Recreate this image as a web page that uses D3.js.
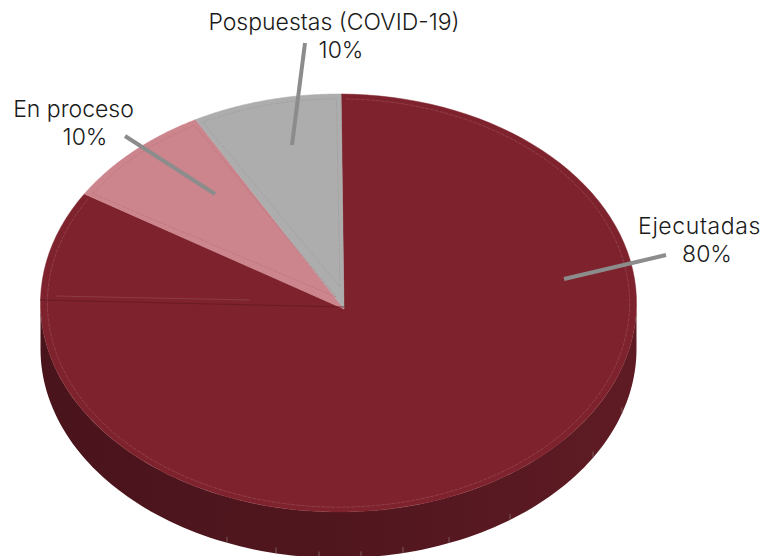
<!DOCTYPE html>
<html>
<head>
<meta charset="utf-8">
<script src="https://cdn.jsdelivr.net/npm/d3@7"></script>
<style>
  html, body { margin: 0; padding: 0; background: #fff; }
  svg { display: block; }
  text { font-family: Inter, sans-serif; font-weight: 300; font-size: 23px; fill: #1a1a1a; }
</style>
</head>
<body>
<div id="chart"></div>
<script>
// labels as printed in the chart, and the slice sizes as they look in the picture
var categories = ["Ejecutadas", "En proceso", "Pospuestas (COVID-19)"];
var printedLabels = ["80%", "10%", "10%"];
var sliceValues = [83.6, 8.3, 8.1];
var sliceColors = ["#7e222d", "#cc858c", "#adadad"];
var bevelColors = ["#a05a63", "#b56f77", "#989898"];
// x positions of the small facet marks along the lower rim
var wallTicks = [227, 276, 319, 361, 403, 449, 510, 593, 622];

var width = 764,
    height = 556;

// tilted disc: ellipse outline, with the apex of the wedges a little off centre
var cx = 338.5, cy = 303, rx = 298, ry = 209;
var apex = [344, 309];
var depth = 46;

var svg = d3.select("#chart")
  .append("svg")
    .attr("width", width)
    .attr("height", height);

var defs = svg.append("defs");
var grad = defs.append("linearGradient").attr("id", "wall");
grad.append("stop").attr("offset", "0%").attr("stop-color", "#4a141c");
grad.append("stop").attr("offset", "50%").attr("stop-color", "#50161e");
grad.append("stop").attr("offset", "100%").attr("stop-color", "#5f1b24");

var sx = d3.scaleLinear().domain([-1, 1]).range([cx - rx, cx + rx]);
var sy = d3.scaleLinear().domain([-1, 1]).range([cy + ry, cy - ry]);

// angle is clockwise from the top
function project(a, r) {
  return [sx(r * Math.sin(a)), sy(r * Math.cos(a))];
}

function rimPoints(a0, a1, r) {
  return d3.range(0, 121).map(function (i) {
    return project(a0 + (a1 - a0) * i / 120, r);
  });
}

var line = d3.line();

var startOffset = 0.5 * Math.PI / 180;
var pie = d3.pie()
  .sort(null)
  .startAngle(startOffset)
  .endAngle(2 * Math.PI + startOffset);
var arcs = pie(sliceValues);

// side wall
var wallTop = rimPoints(Math.PI / 2, 3 * Math.PI / 2, 1);
var wallBottom = wallTop.map(function (p) { return [p[0], p[1] + depth]; }).reverse();
svg.append("path")
  .attr("d", line(wallTop.concat(wallBottom)) + "Z")
  .attr("fill", "url(#wall)");

// facet marks on the wall
svg.selectAll("path.wallTick")
  .data(wallTicks)
  .enter()
  .append("path")
    .attr("class", "wallTick")
    .attr("d", function (d) {
      var u = (d - cx) / rx;
      var yb = cy + depth + ry * Math.sqrt(1 - u * u);
      return line([[d, yb - 6], [d, yb]]);
    })
    .attr("stroke", "#8d6a6e")
    .attr("stroke-width", 0.8);

// top face
svg.selectAll("path.slice")
  .data(arcs)
  .enter()
  .append("path")
    .attr("class", "slice")
    .attr("d", function (d) {
      return line([apex].concat(rimPoints(d.startAngle, d.endAngle, 1))) + "Z";
    })
    .attr("fill", function (d, i) { return sliceColors[i]; })
    .attr("stroke", function (d, i) { return sliceColors[i]; })
    .attr("stroke-width", 0.5);

// faint inner bevel line on each slice
var inset = 0.977;
svg.selectAll("path.bevel")
  .data(arcs)
  .enter()
  .append("path")
    .attr("class", "bevel")
    .attr("d", function (d, i) {
      var pts = rimPoints(d.startAngle + 0.016, d.endAngle - 0.016, inset);
      // the two small slices also carry the line down their straight edges
      if (i > 0) {
        var tip = [apex[0] + (i == 1 ? -8 : -4), apex[1] - (i == 1 ? 12 : 22)];
        return line(pts.concat([tip])) + "Z";
      }
      return line(pts);
    })
    .attr("fill", "none")
    .attr("stroke", function (d, i) { return bevelColors[i]; })
    .attr("stroke-width", 0.5)
    .attr("stroke-dasharray", "4 1");

// seam on the big slice, on the left side
svg.append("path")
  .attr("d", line([[40, 300], [344, 307]]))
  .attr("stroke", "#651922")
  .attr("stroke-width", 0.8)
  .attr("fill", "none");
svg.append("path")
  .attr("d", line([[56, 296], [250, 300]]))
  .attr("stroke", "#9a545d")
  .attr("stroke-width", 0.5)
  .attr("fill", "none");

// leader lines
var leaders = [
  [[564, 279], [666, 255]],
  [[215, 194], [125, 136]],
  [[292, 145], [305, 43]]
];
svg.selectAll("path.leader")
  .data(leaders)
  .enter()
  .append("path")
    .attr("class", "leader")
    .attr("d", function (d) { return line(d); })
    .attr("stroke", "#8c8c8c")
    .attr("stroke-width", 4)
    .attr("fill", "none");

// labels
var labelPos = [[699.5, 234], [73.5, 117], [334, 30]];
var valuePos = [707, 85, 341];
var labels = svg.selectAll("g.label")
  .data(categories)
  .enter()
  .append("g")
    .attr("class", "label");
labels.append("text")
  .attr("x", function (d, i) { return labelPos[i][0]; })
  .attr("y", function (d, i) { return labelPos[i][1]; })
  .attr("text-anchor", "middle")
  .attr("letter-spacing", function (d, i) { return i == 0 ? 0.6 : 0; })
  .text(function (d) { return d; });
labels.append("text")
  .attr("x", function (d, i) { return valuePos[i]; })
  .attr("y", function (d, i) { return labelPos[i][1] + 28; })
  .attr("text-anchor", "middle")
  .text(function (d, i) { return printedLabels[i]; });
</script>
</body>
</html>
